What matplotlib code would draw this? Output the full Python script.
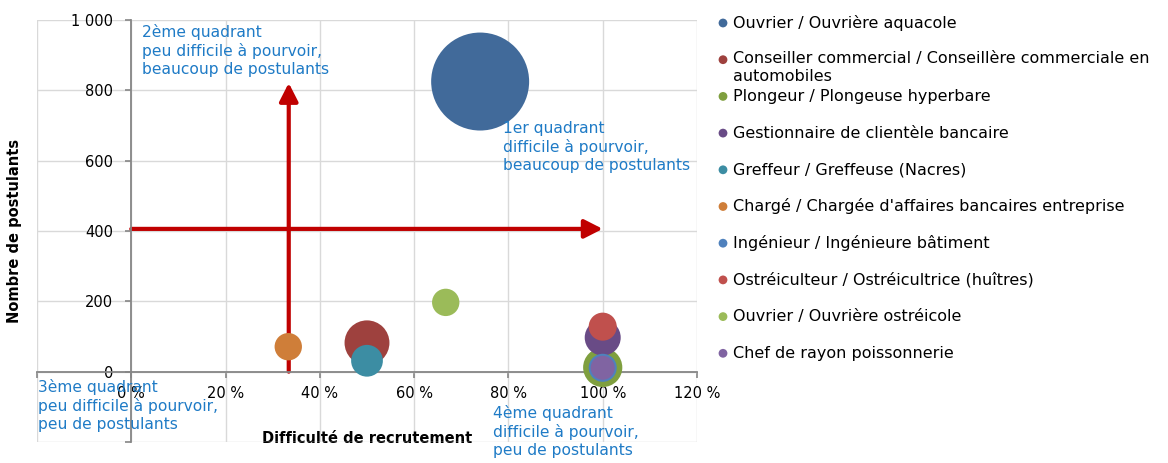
import numpy as np
import matplotlib
matplotlib.use('Agg')
import matplotlib.pyplot as plt
import matplotlib.ticker as ticker

# ============================================================
# Data
# ============================================================
metiers = [
    "Ouvrier / Ouvrière aquacole",
    "Conseiller commercial / Conseillère commerciale en\nautomobiles",
    "Plongeur / Plongeuse hyperbare",
    "Gestionnaire de clientèle bancaire",
    "Greffeur / Greffeuse (Nacres)",
    "Chargé / Chargée d'affaires bancaires entreprise",
    "Ingénieur / Ingénieure bâtiment",
    "Ostréiculteur / Ostréicultrice (huîtres)",
    "Ouvrier / Ouvrière ostréicole",
    "Chef de rayon poissonnerie",
]
difficulte = [0.74, 0.50, 1.00, 1.00, 0.50, 0.333, 1.00, 1.00, 0.667, 1.00]
postulants = [825, 82, 12, 97, 31, 71, 11, 128, 197, 11]
taille = [100, 21, 16, 13.5, 10.5, 7.8, 8.2, 8.2, 7.8, 6.0]

couleurs = ['#416A9A', '#9E413E', '#7F9F3F', '#694B86', '#3C8DA3',
            '#CF7E39', '#4F81BD', '#C0504D', '#9BBB59', '#8064A2']

# quadrant separators
seuil_difficulte = 0.334
seuil_postulants = 406
fleche_x_fin = 1.0
fleche_y_fin = 821

x_ticks = [-0.2, 0, 0.2, 0.4, 0.6, 0.8, 1.0, 1.2]
y_ticks = [-200, 0, 200, 400, 600, 800, 1000]

# ============================================================
# Figure
# ============================================================
plt.rcParams['font.family'] = 'DejaVu Sans'
W, H = 1168, 463
fig = plt.figure(figsize=(W / 100, H / 100), dpi=100)
ax = fig.add_axes([37 / W, 1 - 442 / H, 660 / W, 422 / H])

BLEU_TXT = '#1F7BC6'
GRID = '#D9D9D9'
AXE = '#868686'

ax.set_xlim(-0.2, 1.2)
ax.set_ylim(-200, 1000)
ax.set_xticks(x_ticks)
ax.set_yticks(y_ticks)
ax.xaxis.set_major_formatter(ticker.FuncFormatter(
    lambda v, p: '' if v < -0.01 else f'{v * 100:.0f} %'))
ax.yaxis.set_major_formatter(ticker.FuncFormatter(
    lambda v, p: '' if v < 0 else f'{v:,.0f}'.replace(',', ' ')))
ax.grid(True, color=GRID, lw=1.0)
ax.set_axisbelow(True)

for s in ['top', 'right']:
    ax.spines[s].set_visible(False)
ax.spines['left'].set_position(('data', 0))
ax.spines['bottom'].set_position(('data', 0))
for s in ['left', 'bottom']:
    ax.spines[s].set_color(AXE)
    ax.spines[s].set_linewidth(1.3)
ax.tick_params(axis='both', colors=AXE, length=4, width=1.2,
               labelcolor='black', labelsize=10.5)
ax.tick_params(axis='y', pad=9)
ax.tick_params(axis='x', pad=6)

# bubbles
s_scale = 24 * (2 * 0.72) ** 2
for x, y, t, c in zip(difficulte, postulants, taille, couleurs):
    ax.scatter(x, y, s=t * s_scale, color=c, edgecolor='none', zorder=3)

# arrows
arrow_kw = dict(arrowstyle='-|>,head_length=0.55,head_width=0.28',
                color='#C00000', lw=3, mutation_scale=20,
                shrinkA=0, shrinkB=0)
ax.annotate('', xy=(fleche_x_fin, seuil_postulants),
            xytext=(0, seuil_postulants), arrowprops=arrow_kw, zorder=2)
ax.annotate('', xy=(seuil_difficulte, fleche_y_fin),
            xytext=(seuil_difficulte, 0), arrowprops=arrow_kw, zorder=2)

# quadrant labels
txt_kw = dict(color=BLEU_TXT, fontsize=11.2, va='top', ha='left',
              linespacing=1.27, zorder=5)
ax.text(0.023, 990, "2ème quadrant\npeu difficile à pourvoir,\nbeaucoup de postulants",
        **txt_kw)
ax.text(0.789, 714, "1er quadrant\ndifficile à pourvoir,\nbeaucoup de postulants",
        **txt_kw)
ax.text(-0.197, -20, "3ème quadrant\npeu difficile à pourvoir,\npeu de postulants",
        **txt_kw)
ax.text(0.768, -94, "4ème quadrant\ndifficile à pourvoir,\npeu de postulants",
        clip_on=False, **txt_kw)

ax.set_ylabel('Nombre de postulants', fontsize=10.5, fontweight='bold')
ax.yaxis.set_label_coords(-0.023, 0.5)
ax.set_xlabel('Difficulté de recrutement', fontsize=10.5, fontweight='bold')
ax.xaxis.set_label_coords(0.5, 0.026)

# ─── legend (manual, pixel coords) ───
leg = fig.add_axes([0, 0, 1, 1])
leg.set_xlim(0, W)
leg.set_ylim(H, 0)
leg.axis('off')
leg.patch.set_alpha(0)
for i, (lab, c) in enumerate(zip(metiers, couleurs)):
    yc = 23 + i * 36.7
    leg.scatter(723, yc, s=40, color=c, edgecolor='none')
    if '\n' in lab:
        leg.text(733, yc - 9, lab, fontsize=11.5, va='top', ha='left',
                 linespacing=1.3)
    else:
        leg.text(733, yc, lab, fontsize=11.5, va='center', ha='left')

fig.savefig('out.png', dpi=100)
